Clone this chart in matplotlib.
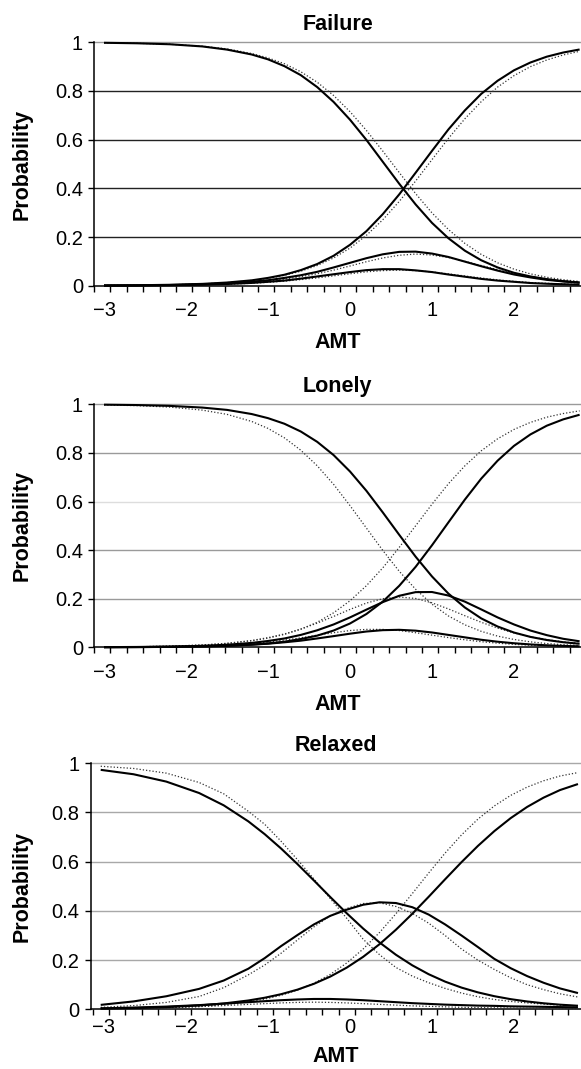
import numpy as np
import matplotlib
matplotlib.use("Agg")
import matplotlib.pyplot as plt

plt.rcParams['font.family'] = ['Liberation Sans', 'DejaVu Sans']

# ---------------- data ----------------
amt = [-3.0, -2.6, -2.2, -1.8, -1.5, -1.2, -1.0, -0.8, -0.6, -0.4, -0.2, 0.0, 0.2,
       0.4, 0.6, 0.8, 1.0, 1.2, 1.4, 1.6, 1.8, 2.0, 2.2, 2.4, 2.6, 2.8]
# the Relaxed panel was read on a grid sitting slightly further left
amt_relaxed = [-3.04, -2.64, -2.24, -1.84, -1.54, -1.24, -1.04, -0.84, -0.64, -0.44, -0.24, -0.04, 0.16,
               0.36, 0.56, 0.76, 0.96, 1.16, 1.36, 1.56, 1.76, 1.96, 2.16, 2.36, 2.56, 2.78]

# Failure - solid
fail_s0 = [.998, .996, .992, .983, .970, .950, .930, .902, .865, .816, .755, .682, .599, .509, .419, .334, .258, .195, .144, .1045, .075, .053, .038, .027, .0185, .013]
fail_s1 = [.0005, .001, .002, .004, .007, .0114, .016, .021, .029, .038, .047, .056, .064, .068, .068, .063, .056, .046, .037, .028, .021, .016, .011, .008, .006, .004]
fail_s2 = [.0006, .0013, .0027, .006, .0095, .0163, .0225, .032, .043, .057, .075, .094, .113, .129, .139, .140, .132, .118, .099, .080, .062, .046, .034, .024, .0175, .0125]
fail_s3 = [.0009, .0018, .0037, .0075, .013, .022, .032, .045, .064, .089, .123, .168, .224, .294, .375, .464, .554, .642, .720, .788, .842, .885, .917, .941, .958, .9705]
# Failure - dotted
fail_d0 = [.998, .996, .992, .984, .973, .954, .936, .912, .879, .836, .7815, .715, .638, .553, .465, .3785, .299, .231, .174, .1287, .094, .068, .0487, .0346, .0246, .0173]
fail_d1 = [.0005, .0009, .0019, .0036, .006, .010, .0138, .0186, .025, .032, .0405, .049, .057, .062, .064, .062, .0565, .0487, .040, .0317, .024, .018, .013, .0097, .007, .005]
fail_d2 = [.0006, .0013, .0025, .0051, .0085, .014, .0196, .027, .037, .049, .064, .081, .0985, .114, .125, .130, .126, .116, .100, .083, .066, .051, .038, .028, .021, .0147]
fail_d3 = [.0009, .0018, .0037, .0075, .0127, .0215, .030, .0425, .0595, .083, .114, .1545, .207, .271, .346, .430, .518, .605, .6855, .756, .816, .863, .900, .9275, .948, .963]

# Lonely - solid
lone_s0 = [.9985, .9969, .9935, .9865, .977, .960, .943, .920, .888, .8455, .791, .7235, .644, .555, .463, .373, .2915, .221, .164, .119, .0856, .0607, .0428, .030, .0209, .0145]
lone_s1 = [.0005, .0009, .0019, .0038, .0065, .0108, .0148, .0206, .0273, .0364, .046, .056, .065, .0705, .072, .0685, .061, .051, .041, .031, .023, .0167, .0118, .0082, .0057, .004]
lone_s2 = [.0007, .0014, .0029, .0062, .0106, .018, .026, .0363, .051, .070, .094, .123, .155, .186, .212, .227, .2275, .213, .188, .156, .123, .094, .069, .050, .035, .0247]
lone_s3 = [.0004, .0008, .0017, .0035, .0062, .011, .016, .023, .034, .048, .069, .098, .137, .188, .253, .331, .420, .514, .6075, .694, .768, .829, .876, .912, .938, .957]
# Lonely - dotted
lone_d0 = [.9974, .9945, .9885, .976, .9586, .9296, .9008, .862, .811, .747, .6706, .583, .4907, .3987, .313, .239, .1775, .129, .0926, .0657, .046, .0323, .0224, .0155, .0107, .0074]
lone_d1 = [.0005, .0012, .0025, .0054, .009, .0157, .0218, .0296, .039, .050, .060, .069, .0737, .0736, .069, .060, .050, .040, .031, .023, .017, .012, .0086, .006, .0044, .003]
lone_d2 = [.001, .0021, .0045, .0095, .0166, .028, .0397, .055, .075, .0994, .127, .156, .182, .200, .207, .201, .183, .158, .130, .103, .079, .059, .0435, .0316, .0226, .016]
lone_d3 = [.0011, .0022, .0045, .0092, .0157, .0266, .0377, .053, .0745, .103, .142, .1915, .2535, .327, .411, .500, .589, .673, .7465, .8085, .858, .8966, .9255, .947, .962, .973]

# Relaxed - solid
relx_s0 = [.9734, .9555, .9256, .8792, .8292, .764, .7119, .6535, .590, .5236, .4562, .3904, .3284, .2718, .2217, .1787, .1425, .1125, .0882, .0688, .0533, .0412, .0318, .0245, .0188, .0144]
relx_s1 = [.018, .032, .053, .083, .117, .165, .208, .257, .302, .345, .380, .405, .425, .435, .432, .415, .385, .345, .300, .253, .205, .167, .135, .108, .085, .066]
relx_s2 = [.004, .007, .011, .017, .023, .029, .033, .037, .040, .042, .042, .040, .037, .033, .029, .025, .022, .019, .017, .015, .014, .012, .011, .010, .009, .008]
relx_s3 = [.0029, .0051, .0089, .0156, .0237, .0358, .047, .0614, .080, .1036, .1331, .1694, .2132, .2646, .3234, .3884, .4576, .5285, .5982, .6642, .7243, .7773, .8226, .8603, .8911, .9157]
# Relaxed - dotted
relx_d0 = [.988, .979, .960, .922, .876, .805, .752, .683, .608, .530, .450, .370, .285, .222, .170, .135, .108, .085, .066, .051, .040, .032, .026, .021, .017, .014]
relx_d1 = [.008, .015, .028, .052, .088, .140, .180, .228, .282, .335, .380, .410, .430, .433, .418, .390, .350, .300, .245, .200, .162, .128, .100, .080, .063, .050]
relx_d2 = [.002, .004, .007, .011, .015, .020, .023, .026, .028, .029, .028, .026, .023, .020, .017, .014, .012, .010, .008, .007, .006, .005, .004, .0035, .003, .0025]
relx_d3 = [.0015, .0029, .0057, .011, .0183, .030, .0414, .057, .078, .1058, .1421, .1882, .245, .3122, .3884, .4705, .5543, .6351, .7089, .7731, .8267, .8697, .9032, .9289, .9482, .9623]

titles = ["Failure", "Lonely", "Relaxed"]
x_ticklabels = ["\u22123", "\u22122", "\u22121", "0", "1", "2"]
x_tickvals = [-3, -2, -1, 0, 1, 2]
y_tickvals = [0, 0.2, 0.4, 0.6, 0.8, 1.0]
y_ticklabels = ["0", "0.2", "0.4", "0.6", "0.8", "1"]

panels = [
    (titles[0], amt, [fail_s0, fail_s1, fail_s2, fail_s3], [fail_d0, fail_d1, fail_d2, fail_d3]),
    (titles[1], amt, [lone_s0, lone_s1, lone_s2, lone_s3], [lone_d0, lone_d1, lone_d2, lone_d3]),
    (titles[2], amt_relaxed, [relx_s0, relx_s1, relx_s2, relx_s3], [relx_d0, relx_d1, relx_d2, relx_d3]),
]

# ---------------- layout ----------------
W, H = 581, 1069
fig = plt.figure(figsize=(W / 100, H / 100), dpi=100)

def rect(left, top, bottom, right=581):
    return [left / W, 1 - bottom / H, (right - left) / W, (bottom - top) / H]

rects = [rect(94, 42.3, 285.7), rect(94, 404.3, 647.3), rect(90.7, 763.3, 1009.3)]
xlims = [(-3.122, 2.817), (-3.122, 2.817), (-3.162, 2.817)]
tick_start = [-3.122, -3.122, -3.14]
tick_pads = [11, 11, 6]
xlabel_pads = [9, 9, 7]
ylabel_pads = [16, 16, 14]
grid_colors = [["#222222"] * 4 + ["#9a9a9a"],
               ["#9a9a9a", "#9a9a9a", "#dddddd", "#9a9a9a", "#9a9a9a"],
               ["#a8a8a8"] * 5]

FS_TICK = 14.5
FS_LAB = 15.5
for i, (title, xs, solids, dots) in enumerate(panels):
    ax = fig.add_axes(rects[i])
    ax.set_xlim(*xlims[i])
    ax.set_ylim(0, 1)
    for sp in ["top", "right"]:
        ax.spines[sp].set_visible(False)
    for sp in ["left", "bottom"]:
        ax.spines[sp].set_linewidth(1.1)
        ax.spines[sp].set_zorder(1)

    # horizontal gridlines
    for yv, c in zip([0.2, 0.4, 0.6, 0.8, 1.0], grid_colors[i]):
        ax.axhline(yv, color=c, lw=1.0, zorder=0.5, clip_on=False)

    for ys in dots:
        ax.plot(xs, ys, color="#333333", lw=0.9, ls=(0, (1, 1.6)), zorder=2, clip_on=False)
    for ys in solids:
        ax.plot(xs, ys, color="black", lw=1.5, zorder=3, clip_on=False,
                solid_capstyle="butt")

    # x tick marks (between categories) and integer labels
    tpos = np.arange(tick_start[i], xlims[i][1], 0.2)
    ax.set_xticks(tpos)
    ax.set_xticklabels([])
    ax.tick_params(axis="x", which="major", direction="out", length=4, width=1.0)
    ax.set_xticks(x_tickvals, minor=True)
    ax.set_xticklabels(x_ticklabels, minor=True, fontsize=FS_TICK)
    ax.tick_params(axis="x", which="minor", length=0, pad=tick_pads[i])

    ax.set_yticks(y_tickvals)
    ax.set_yticklabels(y_ticklabels, fontsize=FS_TICK)
    ax.tick_params(axis="y", direction="out", length=4, width=1.0, pad=4)

    ax.set_title(title, fontsize=FS_LAB, fontweight="bold", pad=9)
    ax.set_xlabel("AMT", fontsize=FS_LAB, fontweight="bold", labelpad=xlabel_pads[i])
    ax.set_ylabel("Probability", fontsize=FS_LAB, fontweight="bold", labelpad=ylabel_pads[i])

fig.savefig("out.png", dpi=100)
